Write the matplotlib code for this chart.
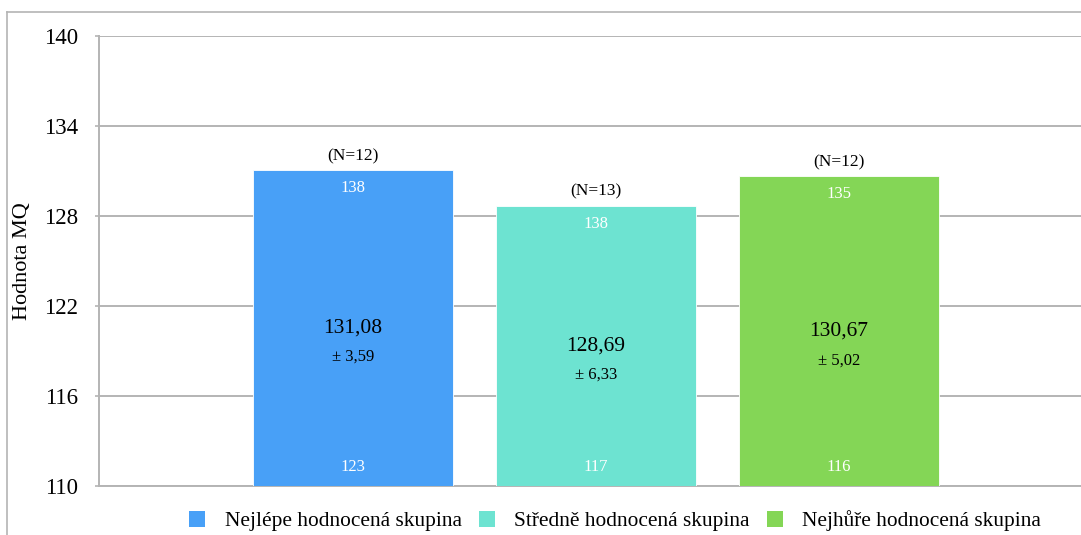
import matplotlib
matplotlib.use("Agg")
import matplotlib.pyplot as plt
from matplotlib.lines import Line2D
from matplotlib.patches import Patch

plt.rcParams['font.family'] = ['Liberation Serif', 'DejaVu Serif']

groups = ["Nejlépe hodnocená skupina", "Středně hodnocená skupina", "Nejhůře hodnocená skupina"]
means = [131.08, 128.69, 130.67]
sds = [3.59, 6.33, 5.02]
maxima = [138, 138, 135]
minima = [123, 117, 116]
counts = [12, 13, 12]
colors = ["#48a0f7", "#6de3d1", "#84d656"]
yticks = [110, 116, 122, 128, 134, 140]

W, H = 1081, 535
fig = plt.figure(figsize=(W / 100, H / 100), dpi=100)

# outer chart frame (top and left edges)
fig.add_artist(Line2D([7 / W, 7 / W], [0, 1 - 12 / H], color="#b4b4b4", lw=1.2))
fig.add_artist(Line2D([7 / W, 1], [1 - 12 / H, 1 - 12 / H], color="#b4b4b4", lw=1.2))

ax = fig.add_axes([99 / W, 49 / H, 994 / W, 450 / H])
base = 110
x = list(range(len(groups)))
heights = [m - base for m in means]
ax.bar(x, heights, bottom=base, width=0.823, color=colors, zorder=3,
       edgecolor="white", linewidth=0.6)

ax.set_xlim(-1.045, 3.045)
ax.set_ylim(110, 140)
ax.set_yticks(yticks)
ax.set_yticklabels([str(t) for t in yticks], fontsize=16.5)
ax.set_xticks([])
ax.yaxis.grid(True, color="#b4b4b4", linewidth=1.4, zorder=0)
for s in ["top", "right"]:
    ax.spines[s].set_visible(False)
for s in ["left", "bottom"]:
    ax.spines[s].set_color("#b4b4b4")
    ax.spines[s].set_linewidth(1.4)
ax.tick_params(axis="y", length=3, color="#b4b4b4", width=1.2, pad=12)
ax.set_ylabel("Hodnota MQ", fontsize=16, labelpad=9)

for xi, m, sd, mx, mn, n in zip(x, means, sds, maxima, minima, counts):
    mid = (base + m) / 2
    ax.text(xi, mid, f"{m:.2f}".replace(".", ","), ha="center", va="center",
            fontsize=15.5, zorder=4)
    ax.annotate(f"± {sd:.2f}".replace(".", ","), (xi, mid), xytext=(0, -21),
                textcoords="offset points", ha="center", va="center", fontsize=12, zorder=4)
    ax.annotate(f"(N={n})", (xi, m), xytext=(0, 10), textcoords="offset points",
                ha="center", va="center", fontsize=12.5, zorder=4)
    ax.annotate(str(mx), (xi, m), xytext=(0, -13), textcoords="offset points",
                ha="center", va="center", fontsize=12, color="white", zorder=4)
    ax.annotate(str(mn), (xi, base), xytext=(0, 14), textcoords="offset points",
                ha="center", va="center", fontsize=12, color="white", zorder=4)

handles = [Patch(facecolor=c, edgecolor="none") for c in colors]
fig.legend(handles, groups, loc="center", bbox_to_anchor=(615 / W, 14 / H), ncol=3,
           frameon=False, fontsize=15.4, handlelength=0.75, handleheight=0.75,
           handletextpad=0.9, columnspacing=0.8, borderpad=0.1)

fig.savefig("out.png", dpi=100)
